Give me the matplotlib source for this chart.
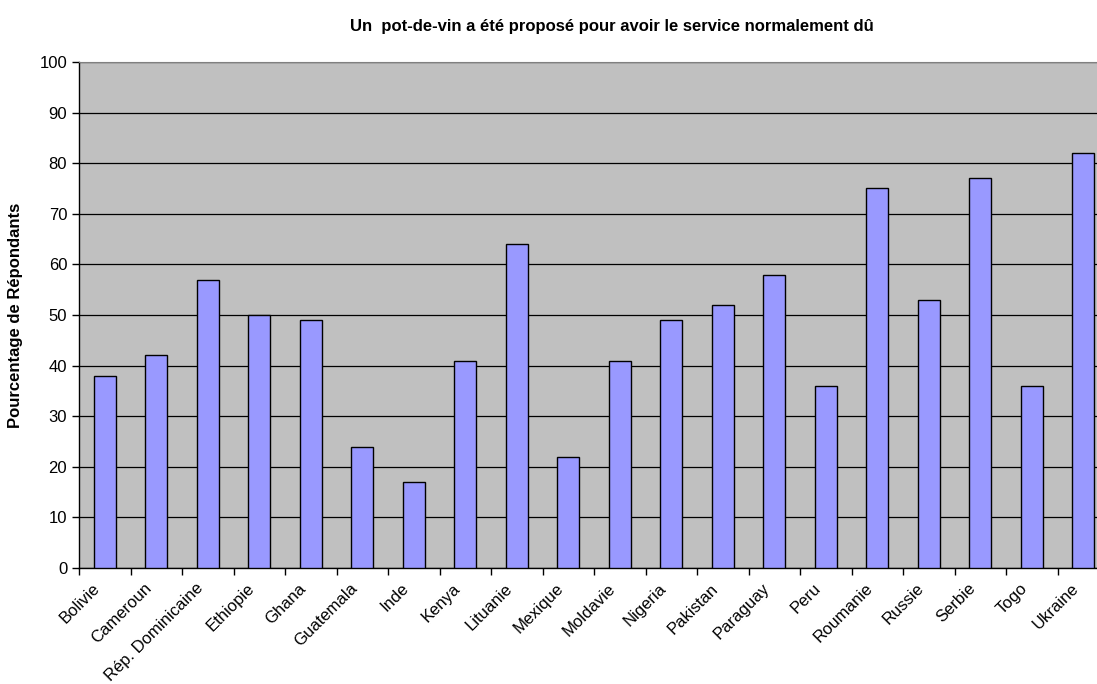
import matplotlib.pyplot as plt
import matplotlib.transforms as mtransforms
import numpy as np

pays = ["Bolivie", "Cameroun", "Rép. Dominicaine", "Ethiopie", "Ghana", "Guatemala",
        "Inde", "Kenya", "Lituanie", "Mexique", "Moldavie", "Nigeria", "Pakistan",
        "Paraguay", "Peru", "Roumanie", "Russie", "Serbie", "Togo", "Ukraine"]
valeurs = [38, 42, 57, 50, 49, 24, 17, 41, 64, 22, 41, 49, 52, 58, 36, 75, 53, 77, 36, 82]
yticks = list(range(0, 101, 10))

plt.rcParams['font.family'] = ['Liberation Sans', 'DejaVu Sans']

W, H = 1097, 684
fig = plt.figure(figsize=(W / 100, H / 100), dpi=100)
left, right, top, bottom = 79, 1109, 62, 568
ax = fig.add_axes([left / W, 1 - bottom / H, (right - left) / W, (bottom - top) / H])
ax.set_facecolor('#C0C0C0')

x = np.arange(len(pays))
ax.bar(x, valeurs, width=0.42, color='#9999FF', edgecolor='black', linewidth=1, zorder=3)

ax.set_xlim(-0.5, len(pays) - 0.5)
ax.set_ylim(0, 100)
ax.set_yticks(yticks)
ax.yaxis.grid(True, color='black', linewidth=0.9, zorder=1)
ax.set_axisbelow(True)
ax.tick_params(axis='y', labelsize=12, length=5, width=1, direction='out')

ax.set_xticks(x - 0.5, minor=False)
ax.set_xticklabels([])
ax.tick_params(axis='x', length=5, width=1, direction='out')
ax.set_xticks(x, minor=True)
ax.set_xticklabels(pays, minor=True, rotation=45, ha='right', va='center',
                   rotation_mode='anchor', fontsize=12)
ax.tick_params(axis='x', which='minor', length=0, pad=13)
decal = mtransforms.ScaledTranslation(-7 / 100, 0, fig.dpi_scale_trans)
for lab in ax.get_xticklabels(minor=True):
    lab.set_transform(lab.get_transform() + decal)

for s in ['top', 'right']:
    ax.spines[s].set_color('#808080')
for s in ['left', 'bottom']:
    ax.spines[s].set_color('black')
    ax.spines[s].set_linewidth(1)

ax.set_ylabel("Pourcentage de Répondants", fontsize=12, fontweight='bold', labelpad=12)
fig.text(612 / W, 1 - 26 / H, "Un  pot-de-vin a été proposé pour avoir le service normalement dû",
         ha='center', va='center', fontsize=12, fontweight='bold')

fig.savefig("out.png", dpi=100)
